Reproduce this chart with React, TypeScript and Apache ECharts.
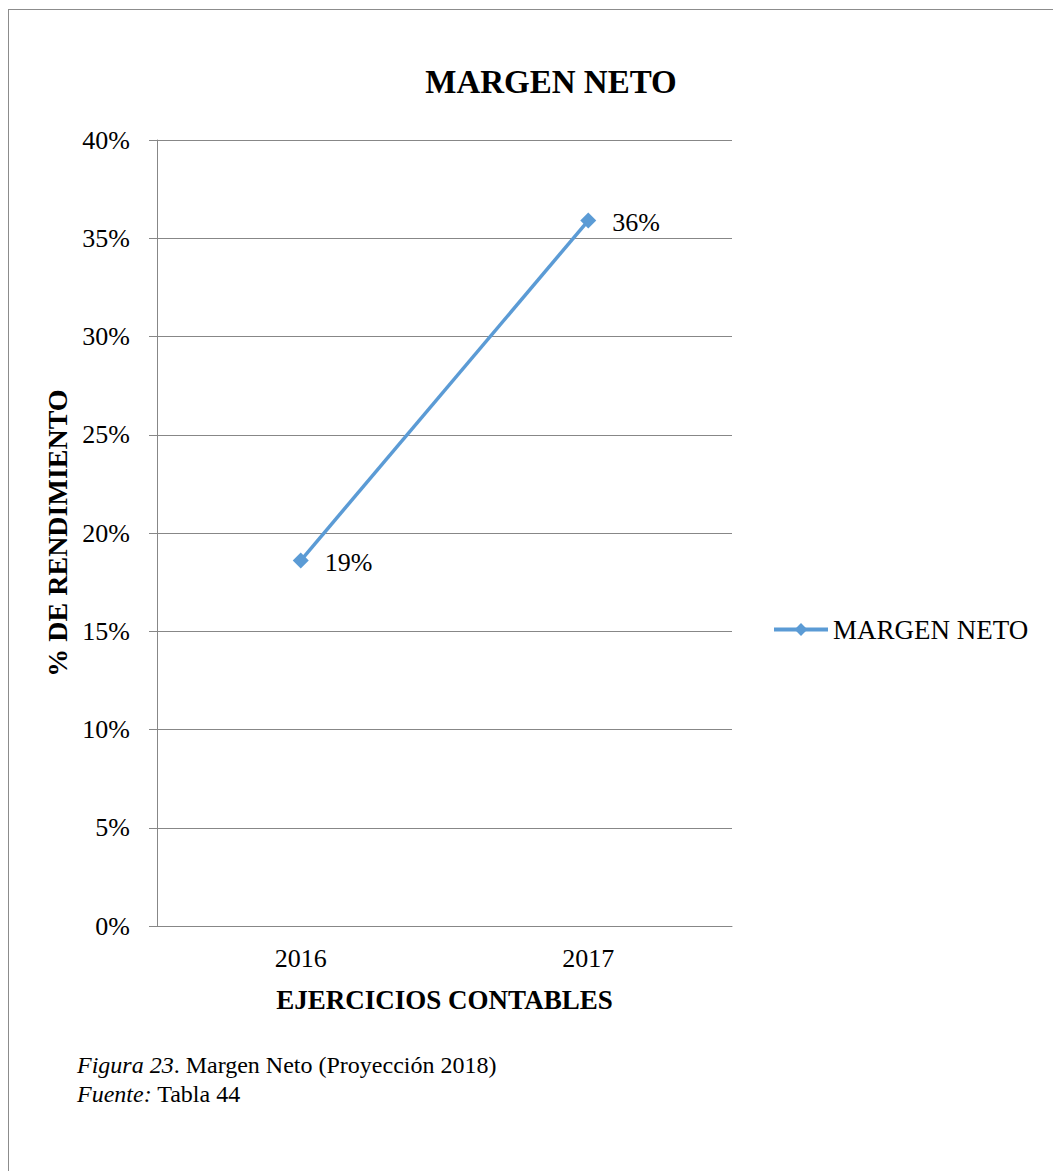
import React, { useEffect, useRef } from "react";
import * as echarts from "echarts";

const categories = ["2016", "2017"];
const margenNeto = [0.186, 0.359];
const seriesName = "MARGEN NETO";
const chartTitle = "MARGEN NETO";
const xAxisName = "EJERCICIOS CONTABLES";
const yAxisName = "% DE RENDIMIENTO";
const captionLine1 = ["Figura 23", ". Margen Neto (Proyección 2018)"];
const captionLine2 = ["Fuente:", " Tabla 44"];

const FONT = '"Liberation Serif", "Times New Roman", serif';
const pct = (v: number) => Math.round(v * 100) + "%";

export default function App() {
  const ref = useRef<HTMLDivElement>(null);
  useEffect(() => {
    if (!ref.current) return;
    const chart = echarts.init(ref.current, undefined, { renderer: "svg" });
    chart.setOption({
      animation: false,
      backgroundColor: "#ffffff",
      textStyle: { fontFamily: FONT, color: "#000" },
      title: {
        text: chartTitle,
        left: 546,
        top: 60,
        textAlign: "center",
        textStyle: { fontFamily: FONT, fontSize: 33, fontWeight: "bold", color: "#000" },
      },
      legend: {
        left: 772,
        top: 616,
        padding: 0,
        itemWidth: 54,
        itemHeight: 16,
        itemGap: 5,
        lineStyle: { width: 4 },
        textStyle: { fontFamily: FONT, fontSize: 27, color: "#000", padding: [0, 0, 0, 0] },
        data: [seriesName],
      },
      grid: { left: 157, right: 321, top: 140, bottom: 245, containLabel: false },
      xAxis: {
        type: "category",
        data: categories,
        boundaryGap: true,
        name: xAxisName,
        nameLocation: "middle",
        nameGap: 60,
        nameTextStyle: { fontFamily: FONT, fontSize: 27, fontWeight: "bold", color: "#000" },
        axisLine: { show: true, lineStyle: { color: "#878787", width: 1 } },
        axisTick: { show: false },
        axisLabel: { fontFamily: FONT, fontSize: 26, color: "#000", margin: 19 },
      },
      yAxis: {
        type: "value",
        min: 0,
        max: 0.4,
        interval: 0.05,
        name: yAxisName,
        nameLocation: "middle",
        nameGap: 86,
        nameRotate: 90,
        nameTextStyle: { fontFamily: FONT, fontSize: 28, fontWeight: "bold", color: "#000" },
        axisLine: { show: true, lineStyle: { color: "#878787", width: 1 } },
        axisTick: { show: true, inside: false, length: 8, lineStyle: { color: "#878787" } },
        splitLine: { show: true, lineStyle: { color: "#878787", width: 1 } },
        axisLabel: { fontFamily: FONT, fontSize: 26, color: "#000", margin: 27, formatter: pct },
      },
      series: [
        {
          name: seriesName,
          type: "line",
          data: margenNeto,
          symbol: "diamond",
          symbolSize: 16,
          itemStyle: { color: "#5B9BD5" },
          lineStyle: { color: "#5B9BD5", width: 3.5 },
          label: {
            show: true,
            position: "right",
            distance: 16,
            offset: [0, 2],
            fontFamily: FONT,
            fontSize: 26,
            color: "#000",
            formatter: (p: any) => pct(p.value),
          },
        },
      ],
      graphic: [
        {
          type: "line",
          shape: { x1: 8, y1: 9.5, x2: 1053, y2: 9.5 },
          style: { stroke: "#8c8c8c", lineWidth: 1 },
        },
        {
          type: "line",
          shape: { x1: 8.5, y1: 9, x2: 8.5, y2: 1171 },
          style: { stroke: "#8c8c8c", lineWidth: 1 },
        },
        {
          type: "text",
          left: 77,
          top: 1053,
          style: {
            text: "{i|" + captionLine1[0] + "}{n|" + captionLine1[1] + "}",
            rich: {
              i: { fontFamily: FONT, fontSize: 24, fontStyle: "italic", fill: "#000" },
              n: { fontFamily: FONT, fontSize: 24, fill: "#000" },
            },
          },
        },
        {
          type: "text",
          left: 77,
          top: 1082,
          style: {
            text: "{i|" + captionLine2[0] + "}{n|" + captionLine2[1] + "}",
            rich: {
              i: { fontFamily: FONT, fontSize: 24, fontStyle: "italic", fill: "#000" },
              n: { fontFamily: FONT, fontSize: 24, fill: "#000" },
            },
          },
        },
      ],
    });
    return () => chart.dispose();
  }, []);
  return (
    <div
      ref={ref}
      style={{ position: "absolute", left: 0, top: 0, width: 1053, height: 1171, background: "#fff" }}
    />
  );
}
